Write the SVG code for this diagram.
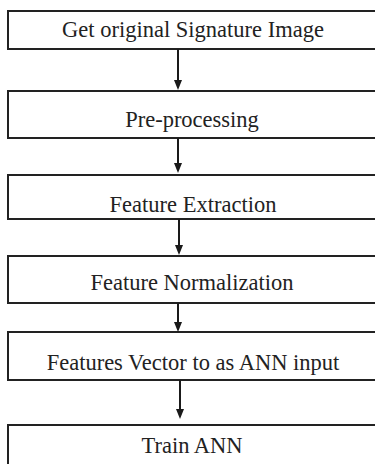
<svg xmlns="http://www.w3.org/2000/svg" width="375" height="464" viewBox="0 0 375 464">
<defs>
<style>
.box{fill:#fff;stroke:#222;stroke-width:2}
.lbl{font-family:"Liberation Serif","Times New Roman",serif;font-size:22.5px;fill:#222;text-anchor:middle}
.con{stroke:#1a1a1a;stroke-width:2;fill:none}
.head{fill:#1a1a1a}
</style>
</defs>
<rect width="375" height="464" fill="#fff"/>
<g id="n1"><rect class="box" x="8" y="11" width="380" height="38"/><text class="lbl" x="193" y="37">Get original Signature Image</text></g>
<g id="n2"><rect class="box" x="8" y="91" width="380" height="47"/><text class="lbl" x="192" y="127">Pre-processing</text></g>
<g id="n3"><rect class="box" x="8" y="175" width="380" height="44"/><text class="lbl" x="193" y="212">Feature Extraction</text></g>
<g id="n4"><rect class="box" x="8" y="256" width="380" height="47"/><text class="lbl" x="192" y="290">Feature Normalization</text></g>
<g id="n5"><rect class="box" x="8" y="332" width="380" height="48"/><text class="lbl" x="193" y="370">Features Vector to as ANN input</text></g>
<g id="n6"><rect class="box" x="8" y="425" width="380" height="50"/><text class="lbl" x="192" y="453">Train ANN</text></g>
<g id="connectors">
<path d="M178,49 V80" class="con"/><path class="head" d="M174,80 L182,80 L178,90 Z"/>
<path d="M178,138 V163" class="con"/><path class="head" d="M174,163 L182,163 L178,173 Z"/>
<path d="M179,219 V245" class="con"/><path class="head" d="M175,245 L183,245 L179,255 Z"/>
<path d="M178,303 V322" class="con"/><path class="head" d="M174,322 L182,322 L178,332 Z"/>
<path d="M180,380 V409" class="con"/><path class="head" d="M176,409 L184,409 L180,419 Z"/>
</g>
</svg>
